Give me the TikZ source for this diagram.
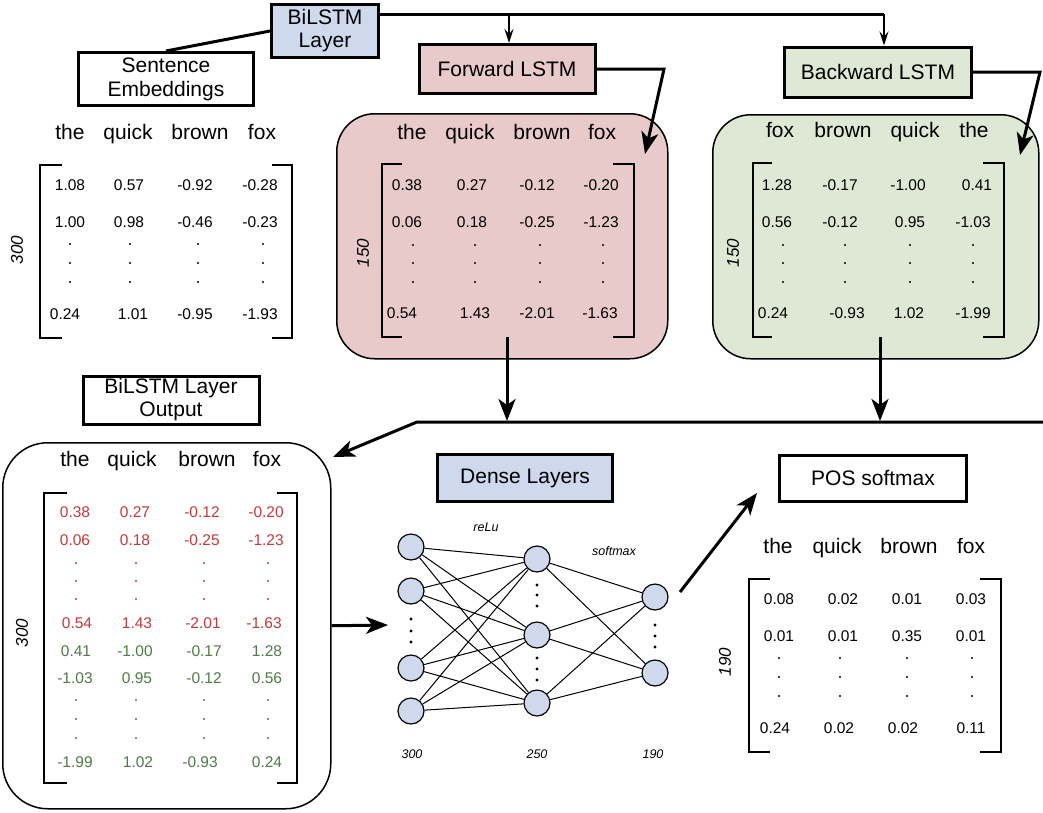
\documentclass[tikz,border=0pt]{standalone}
\usepackage{fontspec}
\setmainfont{Liberation Sans}
\usetikzlibrary{arrows.meta}
\definecolor{blueF}{HTML}{CFD9EE}
\definecolor{pinkF}{HTML}{E9CACA}
\definecolor{greenF}{HTML}{DEE8D5}
\definecolor{redT}{HTML}{C23B3D}
\definecolor{greenT}{HTML}{4F7B46}
\begin{document}
\begin{tikzpicture}[x=1pt,y=-1pt,
 lbl/.style={draw=black, line width=3pt, align=center, font=\fontsize{21}{23}\selectfont, inner sep=0pt},
 word/.style={font=\fontsize{21}{23}\selectfont, inner sep=0pt, anchor=base, yshift=-7.5pt},
 num/.style={font=\fontsize{15.5}{17}\selectfont, inner sep=0pt, anchor=base, yshift=-5.5pt},
 dimlbl/.style={font=\fontsize{17}{19}\selectfont\itshape, rotate=90, inner sep=0pt},
 small/.style={font=\fontsize{12.5}{14}\selectfont\itshape, inner sep=0pt, anchor=base, yshift=-4.5pt},
 conn/.style={line width=3pt},
 bigarr/.style={line width=3pt, line join=miter, -{Stealth[length=22pt,width=17pt,inset=6pt]}},
 thinarr/.style={line width=2pt, -{Stealth[length=14pt,width=9pt,inset=5pt]}},
 brk/.style={line width=2.5pt},
 panel/.style={draw=black, line width=1.5pt, rounded corners=38pt, inner sep=0pt, anchor=north west},
 neuron/.style={circle, draw=black, line width=1.2pt, fill=blueF, minimum size=26pt, inner sep=0pt},
 edge/.style={line width=1pt},
]
\useasboundingbox (0,0) rectangle (1043,812);

% ---------- panels ----------
\node[panel, fill=pinkF, minimum width=331pt, minimum height=245pt] (fpanel) at (336,113) {};
\node[panel, fill=greenF, minimum width=326pt, minimum height=244pt] (bpanel) at (712,114) {};
\node[panel, fill=white, rounded corners=45pt, minimum width=328pt, minimum height=366pt] (opanel) at (2,442) {};

% ---------- label boxes ----------
\node[lbl, fill=blueF, minimum width=107pt, minimum height=53pt] (bilstm) at (325,31) {BiLSTM\\Layer};
\node[lbl, fill=white, minimum width=175pt, minimum height=53pt, font=\fontsize{21}{24}\selectfont] (sent) at (166,79) {Sentence\\Embeddings};
\node[lbl, fill=pinkF, minimum width=176pt, minimum height=49pt] (fwd) at (507,69) {Forward LSTM};
\node[lbl, fill=greenF, minimum width=187pt, minimum height=50pt] (bwd) at (878,72) {Backward LSTM};
\node[lbl, fill=white, minimum width=176pt, minimum height=48pt] (bout) at (171,400) {BiLSTM Layer\\Output};
\node[lbl, fill=blueF, minimum width=175pt, minimum height=47pt] (dense) at (525,478) {Dense Layers};
\node[lbl, fill=white, minimum width=187pt, minimum height=46pt] (pos) at (873,478) {POS softmax};

% ---------- connectors ----------
\coordinate (tj1) at (509,14);
\coordinate (tj2) at (884,14);
\draw[conn] (bilstm.west) -- (sent.north);
\draw[conn] (bilstm.east |- tj1) -- (tj2);
\draw[thinarr] (tj1) -- (tj1 |- fwd.north);
\draw[thinarr] (tj2) -- (tj2 |- bwd.north);
\coordinate (fc) at (664,69);
\coordinate (fa) at (645,154);
\draw[bigarr] (fwd.east) -- (fc) -- (fa);
\coordinate (bc) at (1040,72);
\coordinate (ba) at (1020,155);
\draw[bigarr] (bwd.east) -- (bc) -- (ba);
\coordinate (fd0) at (507,337);
\coordinate (fd1) at (507,421);
\coordinate (bd0) at (880,337);
\coordinate (bd1) at (880,421);
\draw[bigarr] (fd0) -- (fd1);
\draw[bigarr] (bd0) -- (bd1);
\coordinate (hr) at (1043,422);
\coordinate (hl) at (417,422);
\coordinate (oa) at (333,457);
\draw[bigarr] (hr) -- (hl) -- (oa);
\coordinate (nnin) at (388,625);
\draw[bigarr] (opanel.east) -- (nnin);
\coordinate (nnout) at (680,592);
\coordinate (posin) at (757,493);
\draw[bigarr] (nnout) -- (posin);

% ---------- sentence embeddings matrix ----------
\foreach \t/\x [count=\i] in {the/70,quick/128,brown/200,fox/262}
  \node[word] (sew\i) at (\x,132) {\t};
\foreach \v/\x/\y [count=\i] in {1.08/70/185,0.57/129/185,-0.92/195/185,-0.28/260/185,
  1.00/70/222,0.98/129/222,-0.46/195/222,-0.23/260/222,
  0.24/65/314,1.01/133/314,-0.95/195/314,-1.93/260/314}
  \node[num] (sen\i) at (\x,\y) {\v};
\foreach \x in {70,130,198,263} \foreach \y in {244,263,282} \fill (\x,\y) circle (1.1);
\draw[brk] (62,165) -- (40,165) -- (40,338) -- (62,338);
\draw[brk] (272,165) -- (292,165) -- (292,338) -- (272,338);
\node[dimlbl] (sedim) at (17,250) {300};

% ---------- forward matrix ----------
\foreach \t/\x [count=\i] in {the/412,quick/470,brown/542,fox/602}
  \node[word] (fw\i) at (\x,132) {\t};
\foreach \v/\x/\y [count=\i] in {0.38/407/185,0.27/472/185,-0.12/537/185,-0.20/601/185,
  0.06/407/222,0.18/472/222,-0.25/537/222,-1.23/601/222,
  0.54/402/313,1.43/475/313,-2.01/537/313,-1.63/600/313}
  \node[num] (fn\i) at (\x,\y) {\v};
\foreach \x in {413,475,540,603} \foreach \y in {245,263,282} \fill (\x,\y) circle (1.1);
\draw[brk] (402,164) -- (382,164) -- (382,337) -- (402,337);
\draw[brk] (613,164) -- (634,164) -- (634,337) -- (613,337);
\node[dimlbl] (fdim) at (363,253) {150};

% ---------- backward matrix ----------
\foreach \t/\x [count=\i] in {fox/780,brown/843,quick/915,the/974}
  \node[word] (bw\i) at (\x,130) {\t};
\foreach \v/\x/\y [count=\i] in {1.28/777/185,-0.17/840/185,-1.00/908/185,0.41/977/185,
  0.56/777/222,-0.12/840/222,0.95/910/222,-1.03/973/222,
  0.24/773/313,-0.93/847/313,1.02/909/313,-1.99/973/313}
  \node[num] (bn\i) at (\x,\y) {\v};
\foreach \x in {783,845,910,973} \foreach \y in {245,263,282} \fill (\x,\y) circle (1.1);
\draw[brk] (772,163) -- (753,163) -- (753,337) -- (772,337);
\draw[brk] (983,163) -- (1004,163) -- (1004,337) -- (983,337);
\node[dimlbl] (bdim) at (733,253) {150};

% ---------- BiLSTM output matrix ----------
\foreach \t/\x [count=\i] in {the/75,quick/132,brown/207,fox/267}
  \node[word] (ow\i) at (\x,459) {\t};
\foreach \v/\x/\y [count=\i] in {0.38/75/512,0.27/135/512,-0.12/202/512,-0.20/266/512,
  0.06/75/540,0.18/135/540,-0.25/202/540,-1.23/266/540,
  0.54/77/623,1.43/137/623,-2.01/203/623,-1.63/264/623}
  \node[num, text=redT] (orn\i) at (\x,\y) {\v};
\foreach \v/\x/\y [count=\i] in {0.41/76/651,-1.00/135/651,-0.17/204/651,1.28/267/651,
  -1.03/75/678,0.95/137/678,-0.12/204/678,0.56/267/678,
  -1.99/75/762,1.02/138/762,-0.93/200/762,0.24/267/762}
  \node[num, text=greenT] (ogn\i) at (\x,\y) {\v};
\foreach \x in {76,136,204,268} {
  \foreach \y in {563,581,599} \fill[redT] (\x,\y) circle (1.1);
  \foreach \y in {700,719,738} \fill[greenT] (\x,\y) circle (1.1);
}
\draw[brk] (67,493) -- (44,493) -- (44,783) -- (67,783);
\draw[brk] (277,493) -- (297,493) -- (297,783) -- (277,783);
\node[dimlbl] (odim) at (22,633) {300};

% ---------- neural network ----------
\node[neuron] (a1) at (411,547) {};
\node[neuron] (a2) at (411,591) {};
\node[neuron] (a3) at (411,668) {};
\node[neuron] (a4) at (411,711) {};
\node[neuron] (b1) at (537,559) {};
\node[neuron] (b2) at (537,635) {};
\node[neuron] (b3) at (537,703) {};
\node[neuron] (c1) at (655,597) {};
\node[neuron] (c2) at (655,673) {};
\foreach \i in {1,2,3,4} \foreach \j in {1,2,3} \draw[edge] (a\i) -- (b\j);
\foreach \i in {1,2,3} \foreach \j in {1,2} \draw[edge] (b\i) -- (c\j);
\foreach \y in {619,631,642} \fill (411,\y) circle (1.7);
\foreach \y in {585,595,606,658,669,680} \fill (537,\y) circle (1.7);
\foreach \y in {625,636,647} \fill (655,\y) circle (1.7);
\node[small] (relu) at (486,527) {reLu};
\node[small] (smx) at (614,551) {softmax};
\node[small] (l300) at (412,754) {300};
\node[small] (l250) at (537,754) {250};
\node[small] (l190) at (653,754) {190};

% ---------- POS softmax matrix ----------
\foreach \t/\x [count=\i] in {the/778,quick/837,brown/909,fox/971}
  \node[word] (pw\i) at (\x,546) {\t};
\foreach \v/\x/\y [count=\i] in {0.08/779/599,0.02/843/599,0.01/907/599,0.03/971/599,
  0.01/779/636,0.01/843/636,0.35/907/636,0.01/971/636,
  0.24/775/728,0.02/839/728,0.02/903/728,0.11/971/728}
  \node[num] (pn\i) at (\x,\y) {\v};
\foreach \x in {779,840,907,972} \foreach \y in {658,677,696} \fill (\x,\y) circle (1.1);
\draw[brk] (770,579) -- (749,579) -- (749,752) -- (770,752);
\draw[brk] (980,579) -- (1001,579) -- (1001,752) -- (980,752);
\node[dimlbl] (pdim) at (725,662) {190};
\end{tikzpicture}
\end{document}
